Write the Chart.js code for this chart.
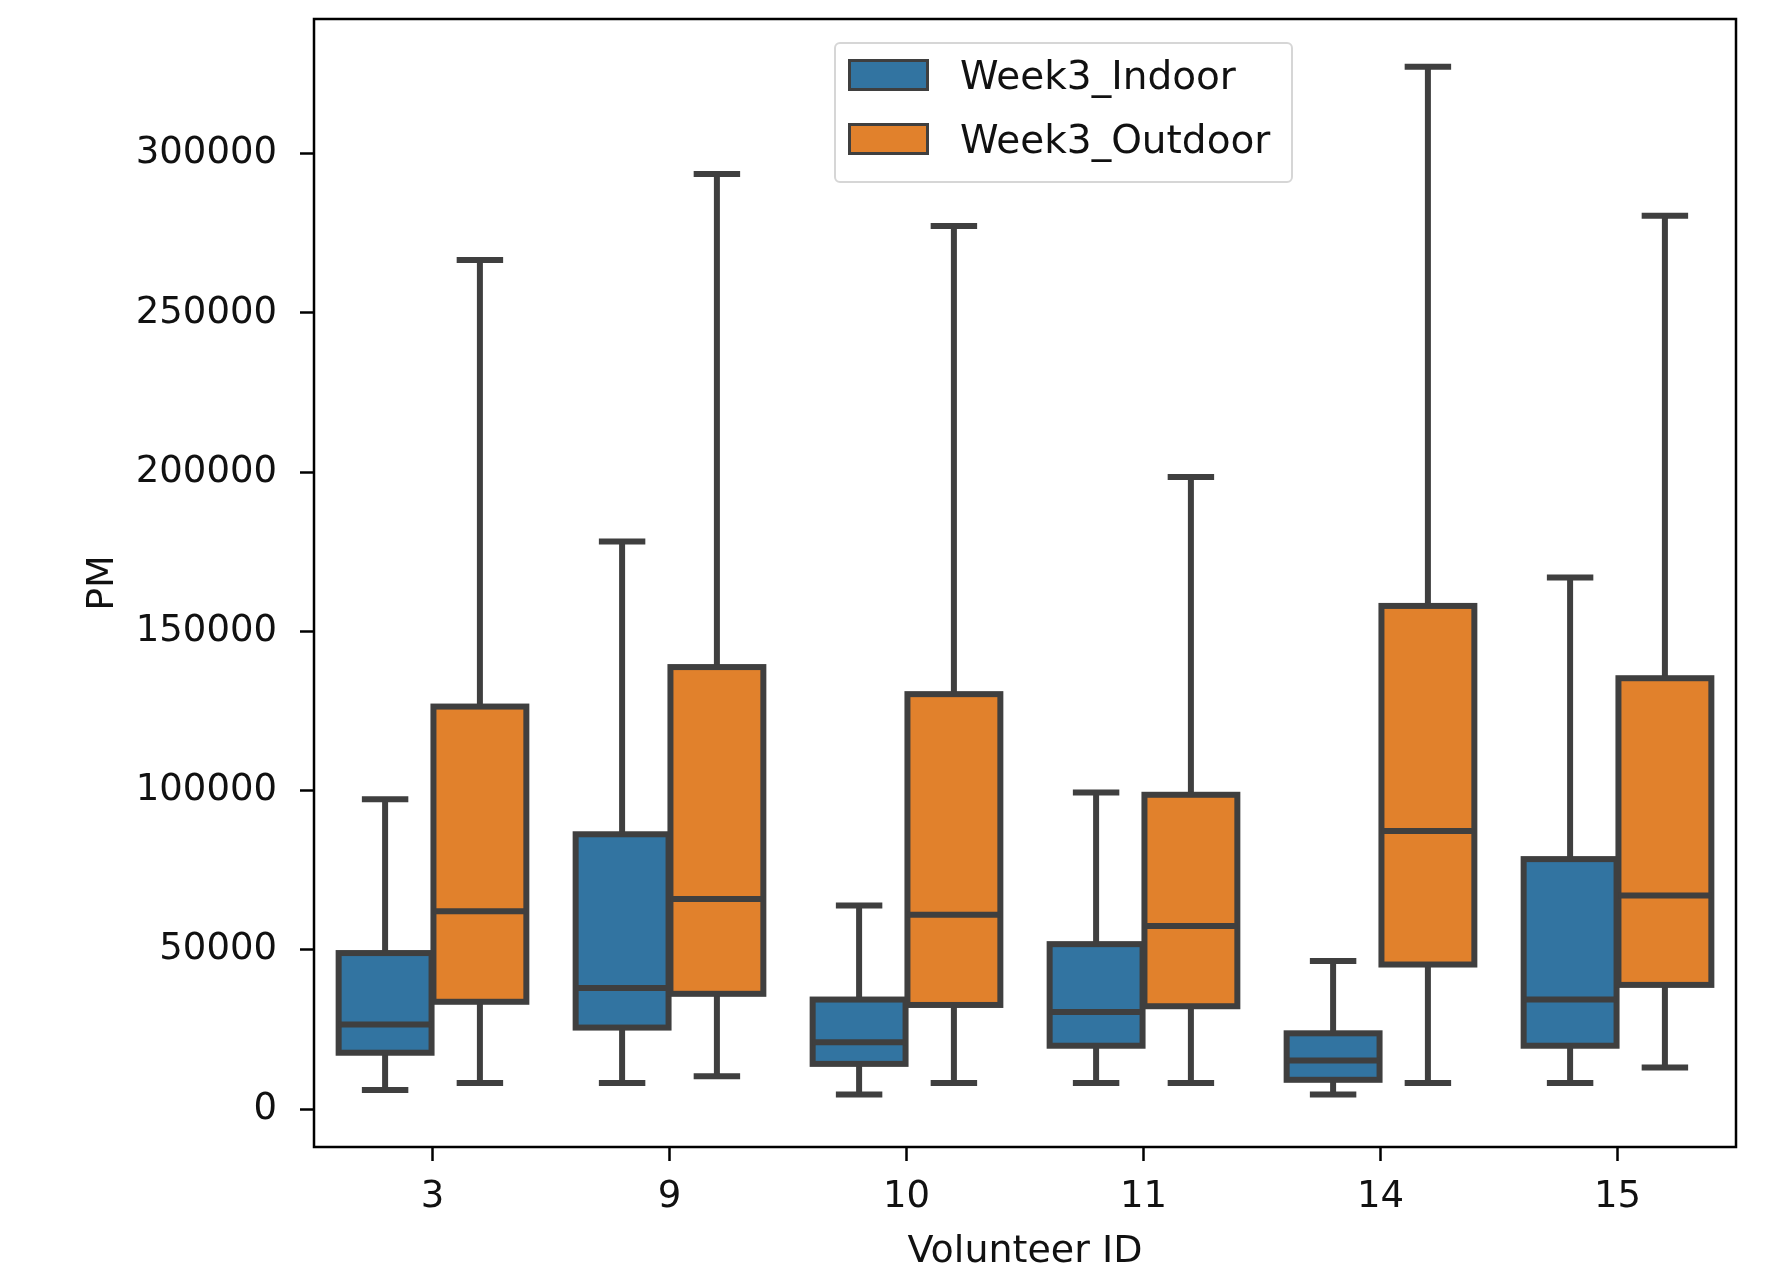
<!DOCTYPE html>
<html>
<head>
<meta charset="utf-8">
<script src="https://cdn.jsdelivr.net/npm/chart.js@4.4.0/dist/chart.umd.min.js"></script>
<style>
  body { margin: 0; background: #fff; }
  #wrap { position: relative; width: 1771px; height: 1281px; }
  #legend {
    position: absolute; left: 834px; top: 42px; width: 455px; height: 137px;
    border: 2px solid #d6d6d6; border-radius: 6px; background: rgba(255,255,255,0.8);
    font-family: "DejaVu Sans"; font-size: 39px; color: #111;
  }
  .item { position: absolute; left: 12px; height: 32px; display: flex; align-items: center; }
  .sw { width: 75px; height: 26px; border: 3px solid #3f3f3f; margin-right: 31px; }
</style>
</head>
<body>
<div id="wrap">
  <canvas id="chart" width="1771" height="1281"></canvas>
  <div id="legend"></div>
</div>
<script>
let ids = ['3', '9', '10', '11', '14', '15']
let seriesNames = ['Week3_Indoor', 'Week3_Outdoor']
let colors = ['#3274a1', '#e1812c']
let yTicks = [0, 50000, 100000, 150000, 200000, 250000, 300000]

/* Indoor box stats */
let indoorMin = [6000, 8200, 4600, 8200, 4600, 8200]
let indoorQ1 = [17700, 25600, 14200, 19900, 9200, 19900]
let indoorMed = [26600, 38000, 21000, 30500, 15300, 34400]
let indoorQ3 = [49000, 86300, 34400, 51800, 23800, 78500]
let indoorMax = [97300, 178200, 63900, 99400, 46500, 166900]

/* Outdoor box stats */
let outdoorMin = [8200, 10300, 8200, 8200, 8200, 13100]
let outdoorQ1 = [33700, 36200, 32700, 32300, 45400, 39000]
let outdoorMed = [62100, 66000, 61000, 57500, 87300, 67100]
let outdoorQ3 = [126400, 138800, 130300, 98700, 158000, 135300]
let outdoorMax = [266600, 293600, 277300, 198500, 327300, 280500]

let stats = [
  { min: indoorMin, q1: indoorQ1, med: indoorMed, q3: indoorQ3, max: indoorMax },
  { min: outdoorMin, q1: outdoorQ1, med: outdoorMed, q3: outdoorQ3, max: outdoorMax }
]

let lineColor = '#3f3f3f'
let lw = 6

// whiskers go under the boxes, outlines and medians on top
let boxPlugin = {
  id: 'boxParts',
  beforeDatasetsDraw(chart) {
    let ctx = chart.ctx
    let y = chart.scales.y
    ctx.save()
    ctx.strokeStyle = lineColor
    ctx.lineWidth = lw
    stats.forEach((s, d) => {
      chart.getDatasetMeta(d).data.forEach((bar, i) => {
        let cap = bar.width / 2
        ctx.beginPath()
        ctx.moveTo(bar.x, y.getPixelForValue(s.q3[i]))
        ctx.lineTo(bar.x, y.getPixelForValue(s.max[i]))
        ctx.moveTo(bar.x, y.getPixelForValue(s.q1[i]))
        ctx.lineTo(bar.x, y.getPixelForValue(s.min[i]))
        ctx.moveTo(bar.x - cap / 2, y.getPixelForValue(s.max[i]))
        ctx.lineTo(bar.x + cap / 2, y.getPixelForValue(s.max[i]))
        ctx.moveTo(bar.x - cap / 2, y.getPixelForValue(s.min[i]))
        ctx.lineTo(bar.x + cap / 2, y.getPixelForValue(s.min[i]))
        ctx.stroke()
      })
    })
    ctx.restore()
  },
  afterDatasetsDraw(chart) {
    let ctx = chart.ctx
    let y = chart.scales.y
    ctx.save()
    ctx.strokeStyle = lineColor
    ctx.lineWidth = lw
    stats.forEach((s, d) => {
      chart.getDatasetMeta(d).data.forEach((bar, i) => {
        let top = y.getPixelForValue(s.q3[i])
        let bottom = y.getPixelForValue(s.q1[i])
        ctx.strokeRect(bar.x - bar.width / 2, top, bar.width, bottom - top)
        let py = y.getPixelForValue(s.med[i])
        ctx.beginPath()
        ctx.moveTo(bar.x - bar.width / 2, py)
        ctx.lineTo(bar.x + bar.width / 2, py)
        ctx.stroke()
      })
    })
    // frame round the plot
    let a = chart.chartArea
    ctx.strokeStyle = '#000'
    ctx.lineWidth = 2.5
    ctx.strokeRect(a.left, a.top, a.right - a.left, a.bottom - a.top)
    ctx.restore()
  }
}

let datasets = stats.map((s, d) => ({
  label: seriesNames[d],
  data: s.q1.map((v, i) => [v, s.q3[i]]),
  backgroundColor: colors[d],
  borderWidth: 0,
  barPercentage: 0.98,
  categoryPercentage: 0.8
}))

new Chart(document.getElementById('chart'), {
  type: 'bar',
  data: { labels: ids, datasets: datasets },
  plugins: [boxPlugin],
  options: {
    responsive: false,
    animation: false,
    events: [],
    layout: { padding: { left: 0, right: 35, top: 19, bottom: 0 } },
    plugins: { legend: { display: false }, tooltip: { enabled: false } },
    scales: {
      x: {
        grid: { offset: false, drawOnChartArea: false, tickLength: 14, tickWidth: 2.5, color: '#000' },
        border: { display: false },
        ticks: { color: '#111', padding: 14, font: { family: 'DejaVu Sans', size: 37 } },
        title: { display: true, text: 'Volunteer ID', color: '#111', padding: { top: 0, bottom: 6 }, font: { family: 'DejaVu Sans', size: 38 } },
        afterFit(scale) { scale.height = 134 }
      },
      y: {
        min: -11900,
        max: 342300,
        afterBuildTicks(scale) { scale.ticks = yTicks.map(v => ({ value: v })) },
        grid: { drawOnChartArea: false, tickLength: 14, tickWidth: 2.5, color: '#000' },
        border: { display: false },
        ticks: { color: '#111', padding: 23, font: { family: 'DejaVu Sans', size: 37 }, callback: v => String(v) },
        title: { display: true, text: 'PM', color: '#111', padding: { top: 80, bottom: 0 }, font: { family: 'DejaVu Sans', size: 38 } },
        afterFit(scale) {
          scale.width = 314
          scale.paddingTop = 0
          scale.paddingBottom = 0
        }
      }
    }
  }
})

/* legend drawn as real text over the plot */
let legend = document.getElementById('legend')
let html = ''
seriesNames.forEach((name, i) => {
  html += `<div class="item" style="top:${15 + i * 64}px"><div class="sw" style="background:${colors[i]}"></div><span>${name}</span></div>`
})
legend.innerHTML = html
</script>
</body>
</html>
